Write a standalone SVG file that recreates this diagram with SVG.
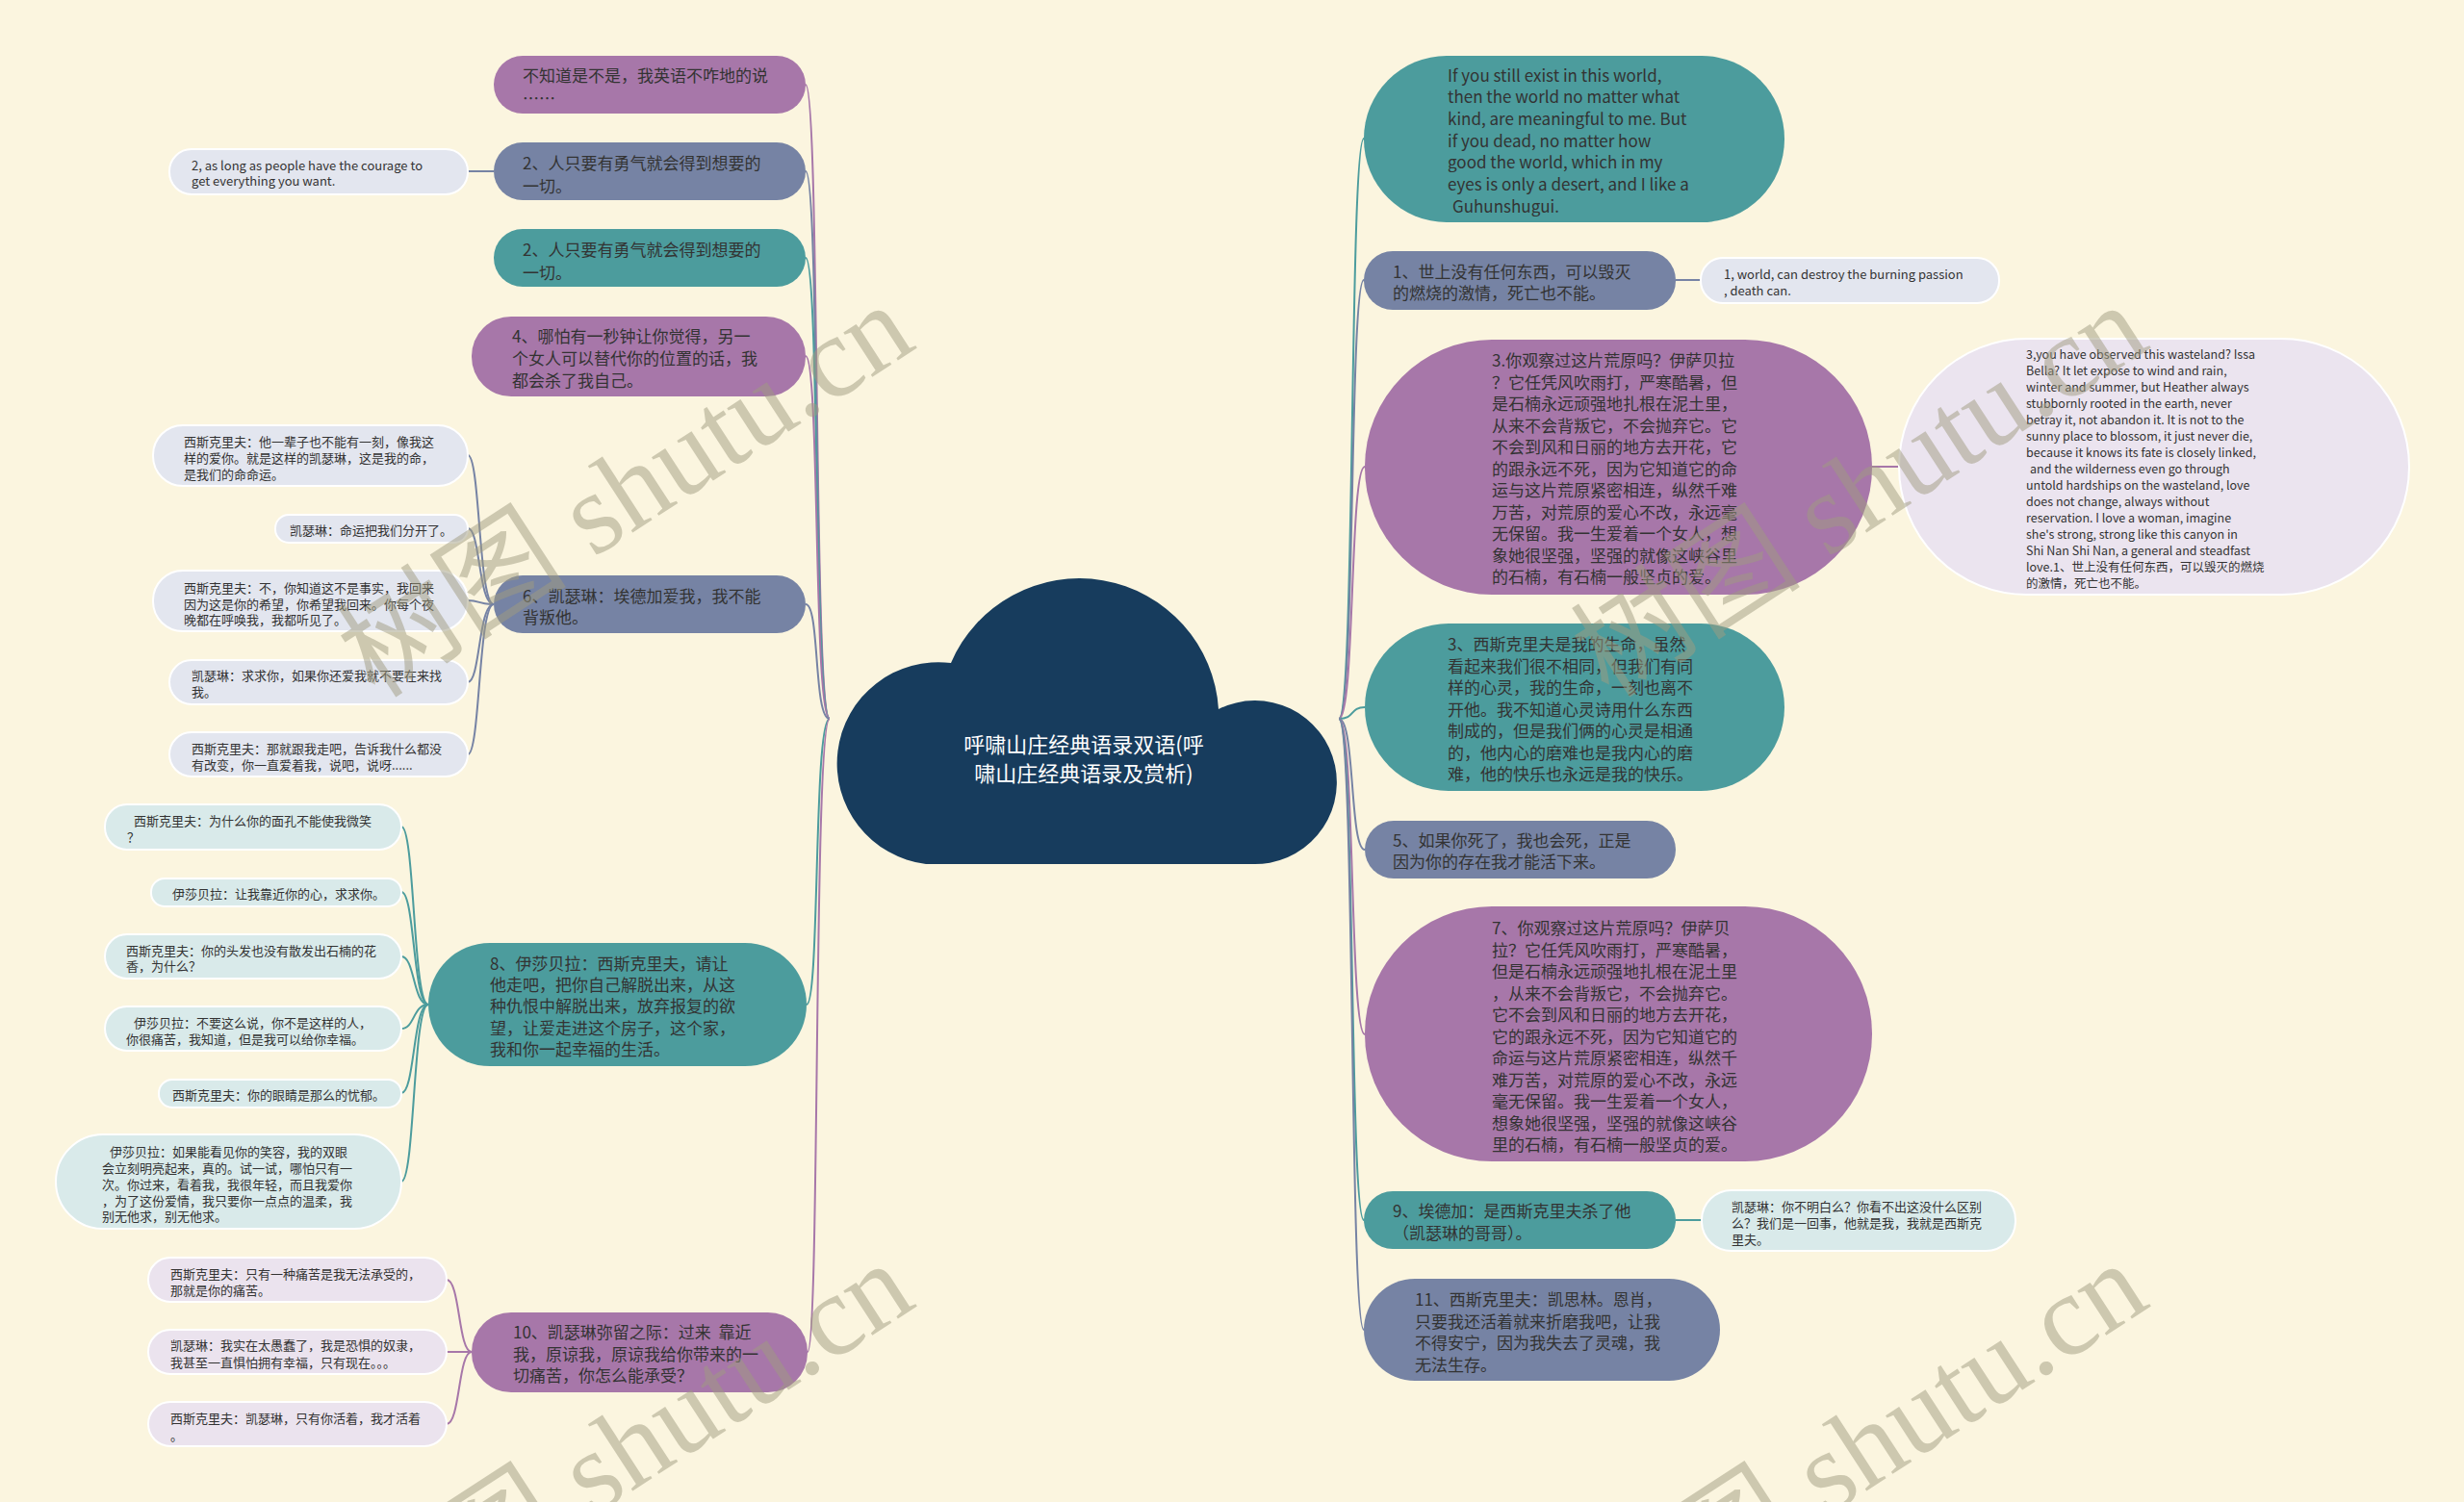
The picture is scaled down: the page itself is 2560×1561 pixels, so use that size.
<svg xmlns="http://www.w3.org/2000/svg" width="2560" height="1561" viewBox="0 0 2560 1561">
<style>
text{font-family:"Noto Sans CJK SC","Noto Sans",sans-serif;dominant-baseline:central}
.t17{font-size:17px;fill:#333}
.t13{font-size:13px;fill:#333}
.t12{font-size:12.5px;fill:#333}
.pu{fill:#a777a9}
.bg{fill:#7683a4}
.te{fill:#4c9c9d}
.lb{fill:#e3e6ef;stroke:#fff;stroke-width:2}
.lt{fill:#d9eaea;stroke:#fff;stroke-width:2}
.ll{fill:#ebe3ee;stroke:#fff;stroke-width:2}
.c{fill:none;stroke-width:2}
.cpu{stroke:#a777a9}.cbg{stroke:#7683a4}.cte{stroke:#4c9c9d}
.wm{font-family:"Liberation Serif","Noto Sans CJK SC",serif;font-size:120px;fill:#a09c80;opacity:0.5;text-anchor:middle}
</style>
<rect width="2560" height="1561" fill="#fbf5df"/>
<g id="connectors">
<path class="c cpu" d="M862,747 C845,747 852,88 837,88"/>
<path class="c cbg" d="M862,747 C845,747 852,178 837,178"/>
<path class="c cte" d="M862,747 C845,747 852,268 837,268"/>
<path class="c cpu" d="M862,747 C845,747 852,370 837,370"/>
<path class="c cbg" d="M862,747 C845,747 852,628 837,628"/>
<path class="c cte" d="M862,747 C845,747 852,1044 838,1044"/>
<path class="c cpu" d="M862,747 C845,747 852,1405 839,1405"/>
<path class="c cte" d="M1391,747 C1408,747 1402,144 1417,144"/>
<path class="c cbg" d="M1391,747 C1408,747 1402,291 1417,291"/>
<path class="c cpu" d="M1391,747 C1408,747 1402,485 1418,485"/>
<path class="c cte" d="M1391,747 C1408,747 1402,735 1418,735"/>
<path class="c cbg" d="M1391,747 C1408,747 1402,883 1418,883"/>
<path class="c cpu" d="M1391,747 C1408,747 1402,1075 1418,1075"/>
<path class="c cte" d="M1391,747 C1408,747 1402,1268 1417,1268"/>
<path class="c cbg" d="M1391,747 C1408,747 1402,1382 1417,1382"/>
<path class="c cbg" d="M513,178 L486,178"/>
<path class="c cbg" d="M513,628 C497,628 499,473 486,473"/>
<path class="c cbg" d="M513,628 C497,628 499,549 486,549"/>
<path class="c cbg" d="M513,628 C497,628 499,624 486,624"/>
<path class="c cbg" d="M513,628 C497,628 499,709 486,709"/>
<path class="c cbg" d="M513,628 C497,628 499,784 486,784"/>
<path class="c cte" d="M445,1044 C429,1044 431,859 417,859"/>
<path class="c cte" d="M445,1044 C429,1044 431,927 417,927"/>
<path class="c cte" d="M445,1044 C429,1044 431,994 417,994"/>
<path class="c cte" d="M445,1044 C429,1044 431,1069 417,1069"/>
<path class="c cte" d="M445,1044 C429,1044 431,1136 417,1136"/>
<path class="c cte" d="M445,1044 C429,1044 431,1228 417,1228"/>
<path class="c cpu" d="M490,1405 C476,1405 478,1330 464,1330"/>
<path class="c cpu" d="M490,1405 L464,1405"/>
<path class="c cpu" d="M490,1405 C476,1405 478,1480 464,1480"/>
<path class="c cbg" d="M1741,291 L1767,291"/>
<path class="c cpu" d="M1945,485 L1973,485"/>
<path class="c cte" d="M1741,1268 L1768,1268"/>
</g>
<g id="root">
<path d="M962,898 A105,105 0 1 1 988,689 A145,145 0 0 1 1266,737 A85,85 0 1 1 1300,898 Z" fill="#173c5d"/>
<text x="1126" y="772" style="font-size:22px;fill:#fff;text-anchor:middle">呼啸山庄经典语录双语(呼</text>
<text x="1126" y="802" style="font-size:22px;fill:#fff;text-anchor:middle">啸山庄经典语录及赏析)</text>
</g>
<g id="L1"><rect class="pu" x="513" y="58" width="324" height="60" rx="30"/>
<text class="t17" x="543"><tspan x="543" y="77">不知道是不是，我英语不咋地的说</tspan><tspan x="543" y="101">……</tspan></text></g>
<g id="L2"><rect class="bg" x="513" y="148" width="324" height="60" rx="30"/>
<text class="t17"><tspan x="543" y="168">2、人只要有勇气就会得到想要的</tspan><tspan x="543" y="192">一切。</tspan></text></g>
<g id="L2c"><rect class="lb" x="176" y="155" width="310" height="47" rx="23"/>
<text class="t13"><tspan x="199" y="171">2, as long as people have the courage to</tspan><tspan x="199" y="187">get everything you want.</tspan></text></g>
<g id="L3"><rect class="te" x="513" y="238" width="324" height="60" rx="30"/>
<text class="t17"><tspan x="543" y="258">2、人只要有勇气就会得到想要的</tspan><tspan x="543" y="282">一切。</tspan></text></g>
<g id="L4"><rect class="pu" x="490" y="329" width="347" height="83" rx="41"/>
<text class="t17"><tspan x="532" y="348">4、哪怕有一秒钟让你觉得，另一</tspan><tspan x="532" y="371">个女人可以替代你的位置的话，我</tspan><tspan x="532" y="394">都会杀了我自己。</tspan></text></g>
<g id="L5"><rect class="bg" x="513" y="598" width="324" height="60" rx="30"/>
<text class="t17"><tspan x="543" y="618">6、凯瑟琳：埃德加爱我，我不能</tspan><tspan x="543" y="640">背叛他。</tspan></text></g>
<g id="L5a"><rect class="lb" x="159" y="442" width="327" height="63" rx="31"/>
<text class="t13"><tspan x="191" y="458">西斯克里夫：他一辈子也不能有一刻，像我这</tspan><tspan x="191" y="475">样的爱你。就是这样的凯瑟琳，这是我的命，</tspan><tspan x="191" y="492">是我们的命命运。</tspan></text></g>
<g id="L5b"><rect class="lb" x="286" y="535" width="200" height="29" rx="14"/>
<text class="t13" x="301" y="550">凯瑟琳：命运把我们分开了。</text></g>
<g id="L5c"><rect class="lb" x="159" y="593" width="327" height="63" rx="31"/>
<text class="t13"><tspan x="191" y="610">西斯克里夫：不，你知道这不是事实，我回来</tspan><tspan x="191" y="627">因为这是你的希望，你希望我回来。你每个夜</tspan><tspan x="191" y="643">晚都在呼唤我，我都听见了。</tspan></text></g>
<g id="L5d"><rect class="lb" x="176" y="686" width="310" height="46" rx="23"/>
<text class="t13"><tspan x="199" y="701">凯瑟琳：求求你，如果你还爱我就不要在来找</tspan><tspan x="199" y="718">我。</tspan></text></g>
<g id="L5e"><rect class="lb" x="176" y="761" width="310" height="46" rx="23"/>
<text class="t13"><tspan x="199" y="777">西斯克里夫：那就跟我走吧，告诉我什么都没</tspan><tspan x="199" y="794">有改变，你一直爱着我，说吧，说呀......</tspan></text></g>
<g id="L6"><rect class="te" x="445" y="980" width="393" height="128" rx="64"/>
<text class="t17"><tspan x="509" y="1000">8、伊莎贝拉：西斯克里夫，请让</tspan><tspan x="509" y="1022">他走吧，把你自己解脱出来，从这</tspan><tspan x="509" y="1044">种仇恨中解脱出来，放弃报复的欲</tspan><tspan x="509" y="1067">望，让爱走进这个房子，这个家，</tspan><tspan x="509" y="1089">我和你一起幸福的生活。</tspan></text></g>
<g id="L6a"><rect class="lt" x="109" y="836" width="308" height="47" rx="23"/>
<text class="t13"><tspan x="139" y="852">西斯克里夫：为什么你的面孔不能使我微笑</tspan><tspan x="132" y="869">？</tspan></text></g>
<g id="L6b"><rect class="lt" x="157" y="913" width="260" height="29" rx="14"/>
<text class="t13" x="179" y="928">伊莎贝拉：让我靠近你的心，求求你。</text></g>
<g id="L6c"><rect class="lt" x="109" y="971" width="308" height="46" rx="23"/>
<text class="t13"><tspan x="131" y="987">西斯克里夫：你的头发也没有散发出石楠的花</tspan><tspan x="131" y="1003">香，为什么？</tspan></text></g>
<g id="L6d"><rect class="lt" x="109" y="1046" width="308" height="46" rx="23"/>
<text class="t13"><tspan x="139" y="1062">伊莎贝拉：不要这么说，你不是这样的人，</tspan><tspan x="131" y="1079">你很痛苦，我知道，但是我可以给你幸福。</tspan></text></g>
<g id="L6e"><rect class="lt" x="165" y="1122" width="252" height="29" rx="14"/>
<text class="t13" x="179" y="1137">西斯克里夫：你的眼睛是那么的忧郁。</text></g>
<g id="L6f"><rect class="lt" x="58" y="1179" width="359" height="98" rx="49"/>
<text class="t13"><tspan x="114" y="1196">伊莎贝拉：如果能看见你的笑容，我的双眼</tspan><tspan x="106" y="1213">会立刻明亮起来，真的。试一试，哪怕只有一</tspan><tspan x="106" y="1230">次。你过来，看着我，我很年轻，而且我爱你</tspan><tspan x="106" y="1247">，为了这份爱情，我只要你一点点的温柔，我</tspan><tspan x="106" y="1263">别无他求，别无他求。</tspan></text></g>
<g id="L7"><rect class="pu" x="490" y="1364" width="349" height="83" rx="41"/>
<text class="t17"><tspan x="533" y="1383">10、凯瑟琳弥留之际：过来&#160;&#160;靠近</tspan><tspan x="533" y="1406">我，原谅我，原谅我给你带来的一</tspan><tspan x="533" y="1428">切痛苦，你怎么能承受？</tspan></text></g>
<g id="L7a"><rect class="ll" x="154" y="1307" width="310" height="46" rx="23"/>
<text class="t13"><tspan x="177" y="1323">西斯克里夫：只有一种痛苦是我无法承受的，</tspan><tspan x="177" y="1340">那就是你的痛苦。</tspan></text></g>
<g id="L7b"><rect class="ll" x="154" y="1382" width="310" height="46" rx="23"/>
<text class="t13"><tspan x="177" y="1397">凯瑟琳：我实在太愚蠢了，我是恐惧的奴隶，</tspan><tspan x="177" y="1415">我甚至一直惧怕拥有幸福，只有现在。。。</tspan></text></g>
<g id="L7c"><rect class="ll" x="154" y="1457" width="310" height="46" rx="23"/>
<text class="t13"><tspan x="177" y="1473">西斯克里夫：凯瑟琳，只有你活着，我才活着</tspan><tspan x="177" y="1491">。</tspan></text></g>
<g id="R1"><rect class="te" x="1417" y="58" width="437" height="173" rx="86"/>
<text class="t17"><tspan x="1504" y="77">If you still exist in this world,</tspan><tspan x="1504" y="99">then the world no matter what</tspan><tspan x="1504" y="122">kind, are meaningful to me. But</tspan><tspan x="1504" y="145">if you dead, no matter how</tspan><tspan x="1504" y="167">good the world, which in my</tspan><tspan x="1504" y="190">eyes is only a desert, and I like a</tspan><tspan x="1509" y="213">Guhunshugui.</tspan></text></g>
<g id="R2"><rect class="bg" x="1417" y="261" width="324" height="61" rx="30"/>
<text class="t17"><tspan x="1447" y="281">1、世上没有任何东西，可以毁灭</tspan><tspan x="1447" y="303">的燃烧的激情，死亡也不能。</tspan></text></g>
<g id="R2c"><rect class="lb" x="1767" y="268" width="310" height="47" rx="23"/>
<text class="t13"><tspan x="1791" y="284">1, world, can destroy the burning passion</tspan><tspan x="1791" y="301">, death can.</tspan></text></g>
<g id="R3"><rect class="pu" x="1418" y="353" width="527" height="265" rx="132"/>
<text class="t17"><tspan x="1550" y="373">3.你观察过这片荒原吗？伊萨贝拉</tspan><tspan x="1550" y="395.5">？它任凭风吹雨打，严寒酷暑，但</tspan><tspan x="1550" y="418">是石楠永远顽强地扎根在泥土里，</tspan><tspan x="1550" y="440.5">从来不会背叛它，不会抛弃它。它</tspan><tspan x="1550" y="463">不会到风和日丽的地方去开花，它</tspan><tspan x="1550" y="485.5">的跟永远不死，因为它知道它的命</tspan><tspan x="1550" y="508">运与这片荒原紧密相连，纵然千难</tspan><tspan x="1550" y="530.5">万苦，对荒原的爱心不改，永远毫</tspan><tspan x="1550" y="553">无保留。我一生爱着一个女人，想</tspan><tspan x="1550" y="575.5">象她很坚强，坚强的就像这峡谷里</tspan><tspan x="1550" y="598">的石楠，有石楠一般坚贞的爱。</tspan></text></g>
<g id="R3a"><rect class="ll" x="1973" y="352" width="530" height="266" rx="133" style="fill:#ebe4ef"/>
<text class="t12"><tspan x="2105" y="367">3,you have observed this wasteland? Issa</tspan><tspan x="2105" y="384">Bella? It let expose to wind and rain,</tspan><tspan x="2105" y="401">winter and summer, but Heather always</tspan><tspan x="2105" y="418">stubbornly rooted in the earth, never</tspan><tspan x="2105" y="435">betray it, not abandon it. It is not to the</tspan><tspan x="2105" y="452">sunny place to blossom, it just never die,</tspan><tspan x="2105" y="469">because it knows its fate is closely linked,</tspan><tspan x="2109" y="486">and the wilderness even go through</tspan><tspan x="2105" y="503">untold hardships on the wasteland, love</tspan><tspan x="2105" y="520">does not change, always without</tspan><tspan x="2105" y="537">reservation. I love a woman, imagine</tspan><tspan x="2105" y="554">she's strong, strong like this canyon in</tspan><tspan x="2105" y="571">Shi Nan Shi Nan, a general and steadfast</tspan><tspan x="2105" y="588">love.1、世上没有任何东西，可以毁灭的燃烧</tspan><tspan x="2105" y="605">的激情，死亡也不能。</tspan></text></g>
<g id="R4"><rect class="te" x="1418" y="648" width="436" height="174" rx="87"/>
<text class="t17"><tspan x="1504" y="668">3、西斯克里夫是我的生命，虽然</tspan><tspan x="1504" y="690.5">看起来我们很不相同，但我们有同</tspan><tspan x="1504" y="713">样的心灵，我的生命，一刻也离不</tspan><tspan x="1504" y="735.5">开他。我不知道心灵诗用什么东西</tspan><tspan x="1504" y="758">制成的，但是我们俩的心灵是相通</tspan><tspan x="1504" y="780.5">的，他内心的磨难也是我内心的磨</tspan><tspan x="1504" y="803">难，他的快乐也永远是我的快乐。</tspan></text></g>
<g id="R5"><rect class="bg" x="1418" y="853" width="323" height="60" rx="30"/>
<text class="t17"><tspan x="1447" y="872">5、如果你死了，我也会死，正是</tspan><tspan x="1447" y="894">因为你的存在我才能活下来。</tspan></text></g>
<g id="R6"><rect class="pu" x="1418" y="942" width="527" height="265" rx="132"/>
<text class="t17"><tspan x="1550" y="963">7、你观察过这片荒原吗？伊萨贝</tspan><tspan x="1550" y="985.5">拉？它任凭风吹雨打，严寒酷暑，</tspan><tspan x="1550" y="1008">但是石楠永远顽强地扎根在泥土里</tspan><tspan x="1550" y="1030.5">，从来不会背叛它，不会抛弃它。</tspan><tspan x="1550" y="1053">它不会到风和日丽的地方去开花，</tspan><tspan x="1550" y="1075.5">它的跟永远不死，因为它知道它的</tspan><tspan x="1550" y="1098">命运与这片荒原紧密相连，纵然千</tspan><tspan x="1550" y="1120.5">难万苦，对荒原的爱心不改，永远</tspan><tspan x="1550" y="1143">毫无保留。我一生爱着一个女人，</tspan><tspan x="1550" y="1165.5">想象她很坚强，坚强的就像这峡谷</tspan><tspan x="1550" y="1188">里的石楠，有石楠一般坚贞的爱。</tspan></text></g>
<g id="R7"><rect class="te" x="1417" y="1238" width="324" height="60" rx="30"/>
<text class="t17"><tspan x="1447" y="1257">9、埃德加：是西斯克里夫杀了他</tspan><tspan x="1447" y="1280">（凯瑟琳的哥哥）。</tspan></text></g>
<g id="R7c"><rect class="lt" x="1768" y="1237" width="326" height="63" rx="31"/>
<text class="t13"><tspan x="1799" y="1253">凯瑟琳：你不明白么？你看不出这没什么区别</tspan><tspan x="1799" y="1270">么？我们是一回事，他就是我，我就是西斯克</tspan><tspan x="1799" y="1287">里夫。</tspan></text></g>
<g id="R8"><rect class="bg" x="1417" y="1329" width="370" height="106" rx="53"/>
<text class="t17"><tspan x="1470" y="1349">11、西斯克里夫：凯思林。恩肖，</tspan><tspan x="1470" y="1372">只要我还活着就来折磨我吧，让我</tspan><tspan x="1470" y="1394">不得安宁，因为我失去了灵魂，我</tspan><tspan x="1470" y="1417">无法生存。</tspan></text></g>
<g id="watermark">
<text class="wm" x="650" y="510" transform="rotate(-33 650 510)">树图 shutu.cn</text>
<text class="wm" x="1932" y="510" transform="rotate(-33 1932 510)">树图 shutu.cn</text>
<text class="wm" x="650" y="1506" transform="rotate(-33 650 1506)">树图 shutu.cn</text>
<text class="wm" x="1932" y="1506" transform="rotate(-33 1932 1506)">树图 shutu.cn</text>
</g>
</svg>
